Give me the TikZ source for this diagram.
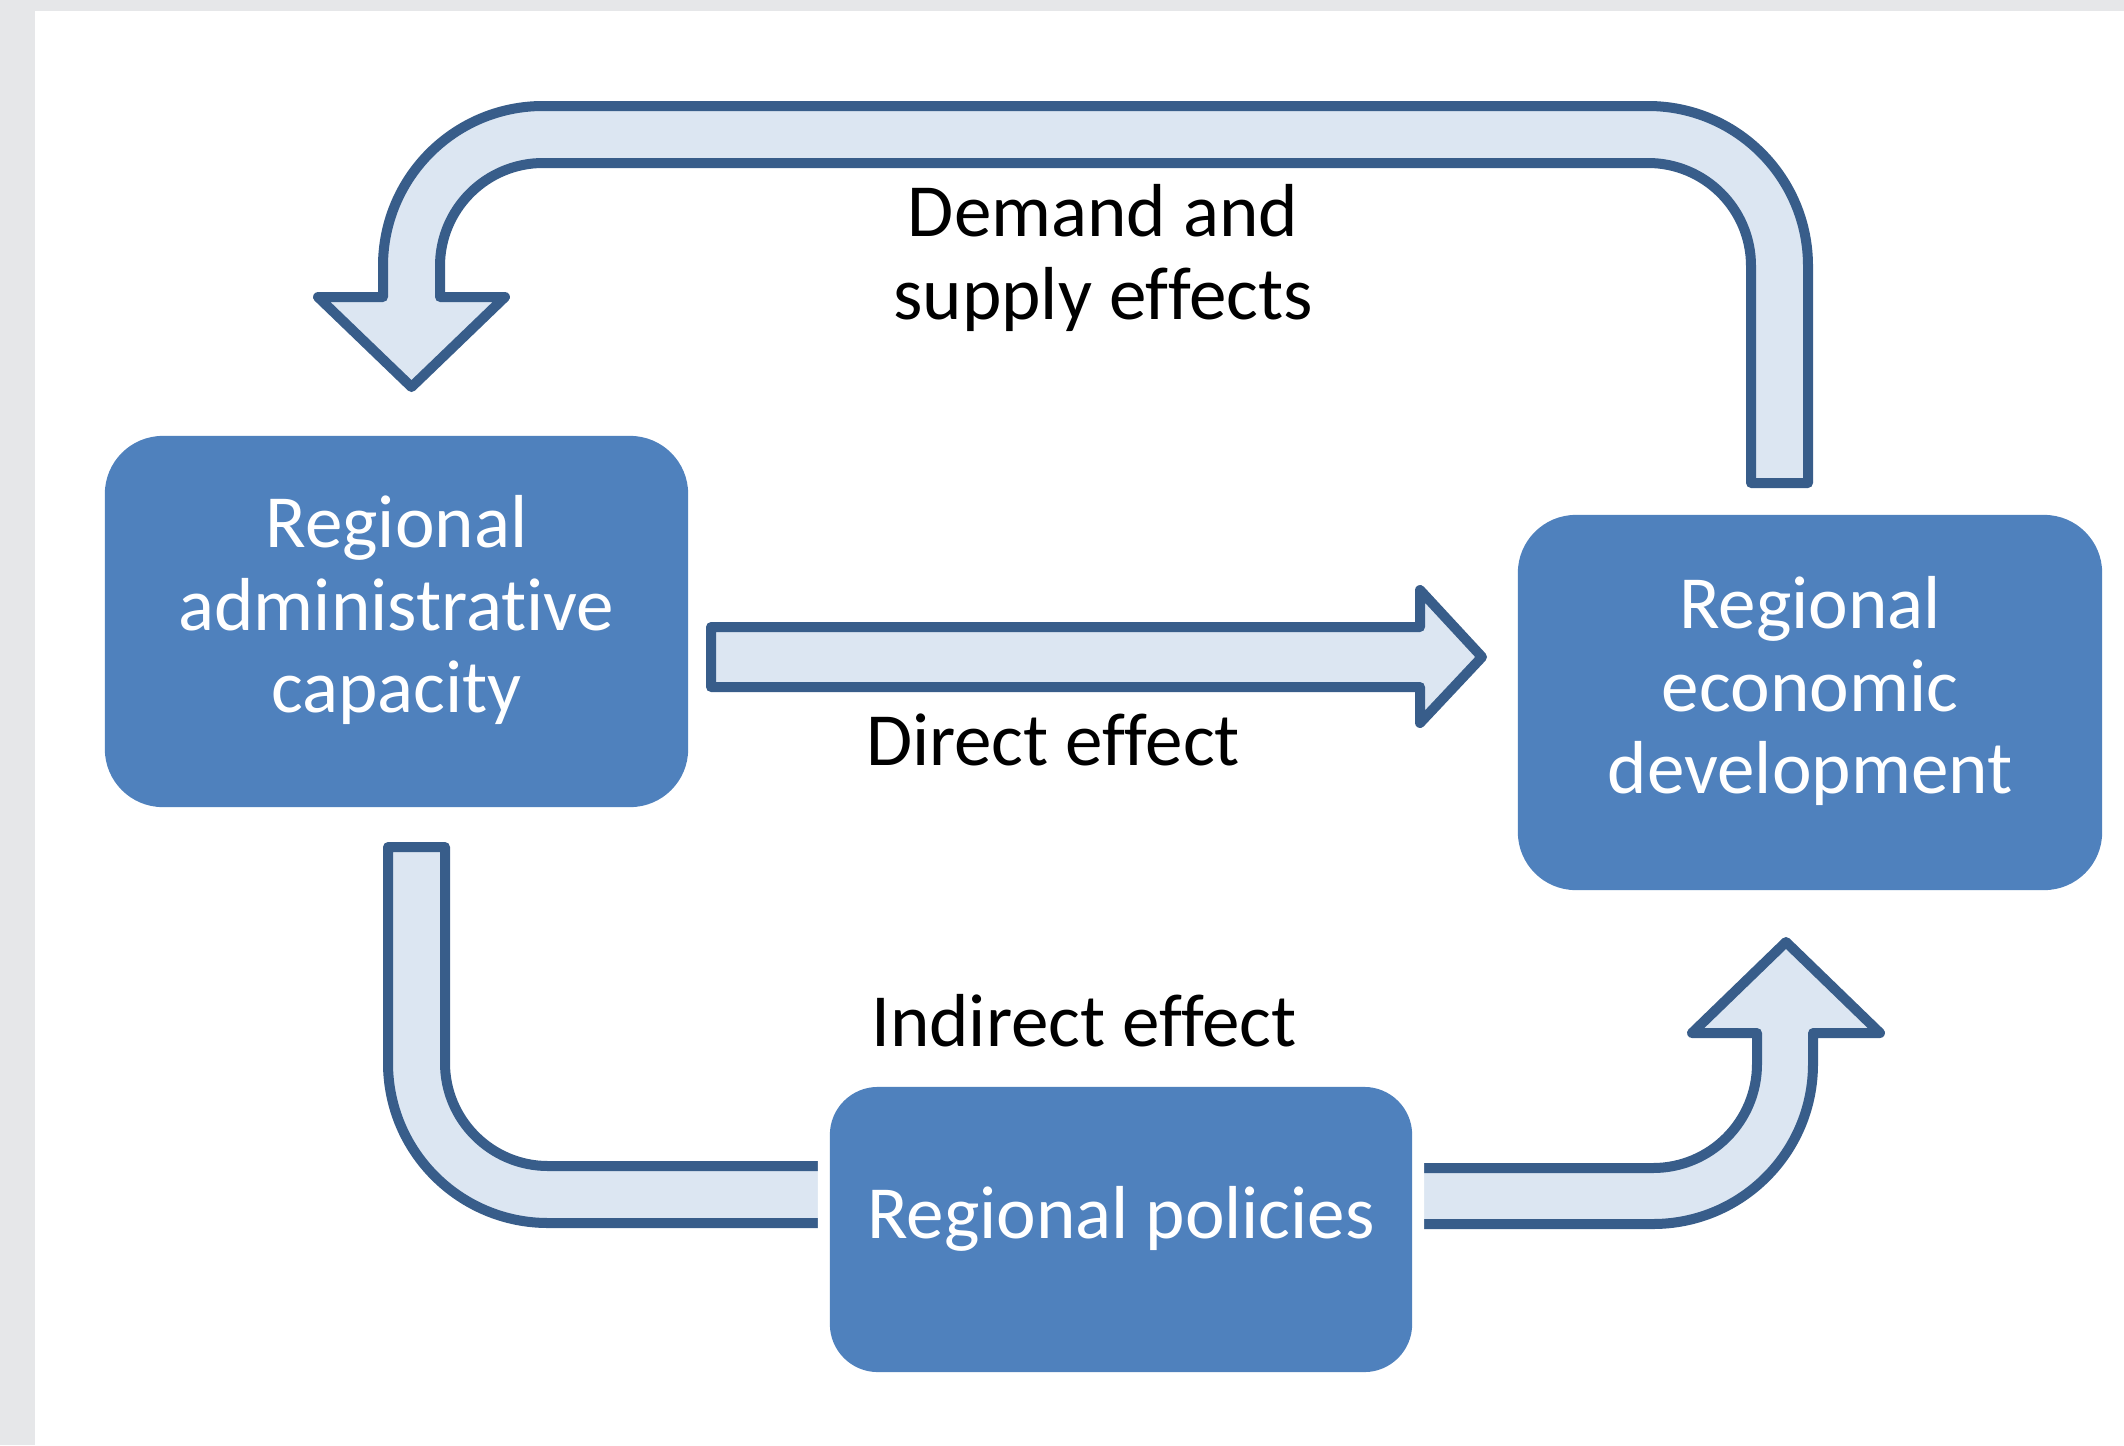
\documentclass[tikz,border=0pt]{standalone}
\usepackage{fontspec}
\setmainfont{Carlito}[Ligatures=NoCommon]
\definecolor{pagegray}{HTML}{E6E7E9}
\definecolor{boxblue}{HTML}{4F81BD}
\definecolor{arrowfill}{HTML}{DCE6F2}
\definecolor{arrowline}{HTML}{385D8A}
\begin{document}
\begin{tikzpicture}[x=0.01cm, y=-0.01cm,
  every node/.style={inner sep=0pt, outer sep=0pt},
  box/.style={rectangle, fill=boxblue, rounded corners=0.58cm, text=white,
    align=center, font=\fontsize{21.35pt}{23.33pt}\selectfont,
    preaction={draw=white, line width=0.24cm}},
  fatarrow/.style={fill=arrowfill, draw=arrowline, line width=0.1cm, line join=round},
  caption/.style={text=black, align=center, anchor=base,
    font=\fontsize{21.35pt}{23.33pt}\selectfont}]

% page background
\useasboundingbox (0,0) rectangle (2124,1445);
\fill[pagegray] (0,0) rectangle (2124,1445);
\fill[white] (35,11) rectangle (2124,1445);

% feedback U-turn arrow: economic development -> administrative capacity
\draw[fatarrow] (1751,483) -- (1808,483) -- (1808,266)
  arc[start angle=0, end angle=-90, radius=160] -- (543,106)
  arc[start angle=-90, end angle=-180, radius=160] -- (383,297)
  -- (318,297) -- (411.5,387) -- (505,297) -- (440,297) -- (440,266)
  arc[start angle=180, end angle=270, radius=103] -- (1648,163)
  arc[start angle=270, end angle=360, radius=103] -- cycle;

% direct arrow
\draw[fatarrow] (711,627) -- (1420,627) -- (1420,590) -- (1482,657)
  -- (1420,723) -- (1420,687) -- (711,687) -- cycle;

% indirect path, first leg (runs under the policies box)
\draw[fatarrow] (388,847) -- (445,847) -- (445,1063)
  arc[start angle=180, end angle=90, radius=103] -- (900,1166)
  -- (900,1223) -- (548,1223)
  arc[start angle=90, end angle=180, radius=160] -- cycle;

% indirect path, second leg
\draw[fatarrow] (1350,1168) -- (1653,1168)
  arc[start angle=90, end angle=0, radius=104] -- (1757,1033)
  -- (1692,1033) -- (1786,942) -- (1880,1033) -- (1813,1033) -- (1813,1064)
  arc[start angle=0, end angle=90, radius=160] -- (1350,1224) -- cycle;

% boxes (text baseline sits on the last line; heights centre the block)
\node[box, minimum width=5.83cm, minimum height=3.71cm,
  text height=1.81cm, text depth=0cm] (rac) at (396.5,621.5)
  {Regional\\administrative\\capacity};
\node[box, minimum width=5.84cm, minimum height=3.75cm,
  text height=1.81cm, text depth=0cm] (red) at (1810,702.5)
  {Regional\\economic\\development};
\node[box, rounded corners=0.48cm, minimum width=5.82cm, minimum height=2.85cm,
  text height=0.17cm, text depth=0cm] (pol) at (1121,1229.5)
  {Regional policies};

% captions
\node[caption] (demand) at (1103,319) {Demand and\\supply effects};
\node[caption] (direct) at (1053,765) {Direct effect};
\node[caption] (indirect) at (1084,1046) {Indirect effect};
\end{tikzpicture}
\end{document}
